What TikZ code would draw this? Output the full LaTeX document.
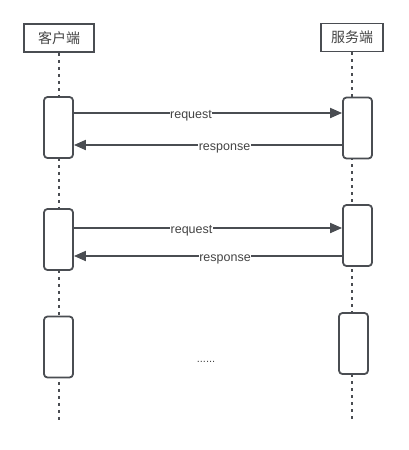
\documentclass[tikz,border=0pt]{standalone}
\usepackage{fontspec}
\setmainfont{Liberation Sans}
\newfontfamily\cjk{Noto Sans CJK SC}
\usetikzlibrary{arrows.meta}
\definecolor{ln}{HTML}{4A4D52}
\definecolor{tx}{HTML}{444444}
\tikzset{
  head/.style={draw=ln, line width=1.8pt, fill=white, minimum width=#1, minimum height=28pt, inner sep=0pt, font=\cjk\fontsize{14}{15}\selectfont, text=tx},
  act/.style={draw=ln, line width=1.8pt, fill=white, rounded corners=3.5pt, minimum width=29pt, minimum height=61pt, inner sep=0pt},
  life/.style={draw=ln, line width=2.4pt, dash pattern=on 3pt off 4pt},
  msg/.style={draw=ln, line width=1.8pt, -{Triangle[length=12pt,width=10pt]}},
  lbl/.style={fill=white, inner sep=0.5pt, text=tx, font=\fontsize{12.5}{13}\selectfont}
}
\begin{document}
\begin{tikzpicture}[x=1pt,y=-1pt]
\useasboundingbox (0,0) rectangle (408,450);
% headers
\node[head=70pt] (c) at (59,38) {客户端};
\node[head=62pt] (s) at (352,37.5) {服务端};
\coordinate (cend) at (59,421);
\coordinate (send) at (352,421);
\draw[life] (c.south) -- (cend);
\draw[life] (s.south) -- (send);
% group 1
\node[act] (a1) at (58.5,127.5) {};
\node[act] (b1) at (357.5,128) {};
\draw[msg] ([yshift=14.5pt]a1.east) -- ([yshift=14.5pt]a1.east -| b1.west);
\draw[msg] ([yshift=-17.5pt]a1.east -| b1.west) -- ([yshift=-17.5pt]a1.east);
\node[lbl] (r1) at (191,116) {request};
\node[lbl] (p1) at (224.5,148) {response};
% group 2
\node[act] (a2) at (58.5,239.5) {};
\node[act] (b2) at (357.5,235.5) {};
\draw[msg] ([yshift=11.5pt]a2.east) -- ([yshift=11.5pt]a2.east -| b2.west);
\draw[msg] ([yshift=-16.5pt]a2.east -| b2.west) -- ([yshift=-16.5pt]a2.east);
\node[lbl] (r2) at (191.5,231) {request};
\node[lbl] (p2) at (225,259) {response};
% group 3
\node[act] (a3) at (58.5,347) {};
\node[act] (b3) at (353.5,343.5) {};
\node[text=tx, font=\fontsize{11}{12}\selectfont, inner sep=0pt] (dots) at (206,362) {......};
\end{tikzpicture}
\end{document}
